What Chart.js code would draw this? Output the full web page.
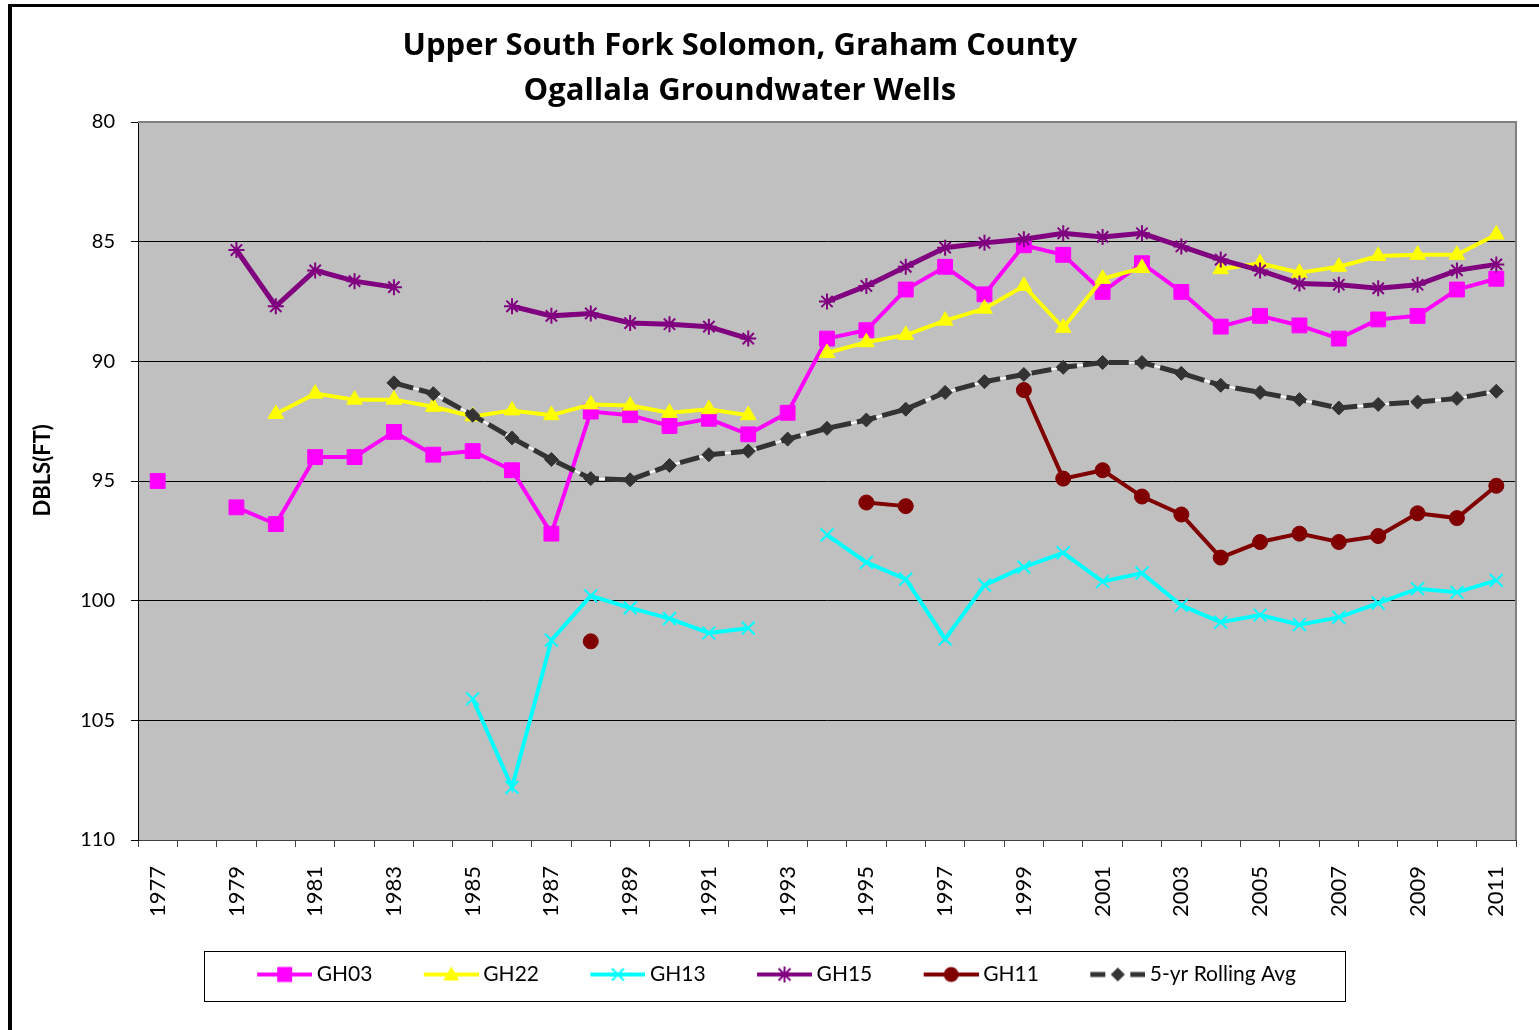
<!DOCTYPE html>
<html>
<head>
<meta charset="utf-8">
<script src="https://cdn.jsdelivr.net/npm/chart.js@4/dist/chart.umd.min.js"></script>
<style>
html,body{margin:0;padding:0;background:#fff;}
#wrap{width:1539px;height:1030px;position:relative;}
</style>
</head>
<body>
<div id="wrap"><canvas id="c" width="1539" height="1030"></canvas></div>
<script>
// ---------------- data ----------------
const years = ['1977','1978','1979','1980','1981','1982','1983','1984','1985','1986','1987','1988','1989','1990','1991','1992','1993','1994','1995','1996','1997','1998','1999','2000','2001','2002','2003','2004','2005','2006','2007','2008','2009','2010','2011'];

const gh03 = [95.0, null, 96.1, 96.8, 94.0, 94.0, 92.95, 93.9, 93.75, 94.55, 97.2, 92.1, 92.25, 92.7, 92.4, 93.05, 92.15, 89.05, 88.7, 87.0, 86.05, 87.2, 85.15, 85.55, 87.1, 85.9, 87.1, 88.55, 88.1, 88.5, 89.05, 88.25, 88.1, 87.0, 86.55];

const gh22 = [null, null, null, 92.2, 91.35, 91.6, 91.6, 91.9, 92.3, 92.05, 92.25, 91.8, 91.85, 92.15, 92.0, 92.25, null, 89.65, 89.2, 88.9, 88.3, 87.8, 86.85, 88.6, 86.55, 86.1, null, 86.15, 85.9, 86.3, 86.05, 85.6, 85.55, 85.55, 84.7];

const gh13 = [null, null, null, null, null, null, null, null, 104.1, 107.8, 101.65, 99.8, 100.3, 100.75, 101.35, 101.15, null, 97.25, 98.4, 99.1, 101.6, 99.35, 98.6, 98.0, 99.2, 98.85, 100.2, 100.9, 100.6, 101.0, 100.7, 100.1, 99.5, 99.65, 99.15];

const gh15 = [null, null, 85.35, 87.7, 86.2, 86.65, 86.9, null, null, 87.7, 88.1, 88.0, 88.4, 88.45, 88.55, 89.05, null, 87.5, 86.85, 86.05, 85.25, 85.05, 84.9, 84.65, 84.8, 84.65, 85.2, 85.75, 86.2, 86.75, 86.8, 86.95, 86.8, 86.2, 85.95];

const gh11 = [null, null, null, null, null, null, null, null, null, null, null, 101.7, null, null, null, null, null, null, 95.9, 96.05, null, null, 91.2, 94.9, 94.55, 95.65, 96.4, 98.2, 97.55, 97.2, 97.55, 97.3, 96.35, 96.55, 95.2];

const rollingAvg = [null, null, null, null, null, null, 90.9, 91.35, 92.25, 93.2, 94.1, 94.9, 94.95, 94.35, 93.9, 93.75, 93.25, 92.8, 92.45, 92.0, 91.3, 90.85, 90.55, 90.25, 90.05, 90.05, 90.5, 91.0, 91.3, 91.6, 91.95, 91.8, 91.7, 91.55, 91.25];

const seriesNames = ['GH03', 'GH22', 'GH13', 'GH15', 'GH11', '5-yr Rolling Avg'];
const titleLines = ['Upper South Fork Solomon, Graham County', 'Ogallala Groundwater Wells'];
const yTitle = 'DBLS(FT)';
const yTicks = {min: 80, max: 110, step: 5};

// ---------------- styling ----------------
const FONT = 'Lato';
Chart.defaults.font.family = FONT;
Chart.defaults.color = '#000';

const LEG_FONT = 21;
const LEG_PAD = 34.4;
const PW = 66;            // legend point-style width
const ICON_W = PW + 12;   // legend icon canvas width

function makeIcon(color, kind) {
  const W = ICON_W, H = 24;
  const c = document.createElement('canvas');
  c.width = W; c.height = H;
  const g = c.getContext('2d');
  const x0 = W - 55, cx = W - 27.5, cy = H / 2;
  g.strokeStyle = color; g.fillStyle = color;
  g.lineCap = 'butt';
  if (kind === 'diamond') {
    g.lineWidth = 5;
    g.beginPath(); g.moveTo(x0, cy); g.lineTo(x0 + 15, cy); g.stroke();
    g.beginPath(); g.moveTo(W - 15, cy); g.lineTo(W, cy); g.stroke();
  } else {
    g.lineWidth = 4;
    g.beginPath(); g.moveTo(x0, cy); g.lineTo(W, cy); g.stroke();
  }
  g.lineWidth = 2;
  g.beginPath();
  switch (kind) {
    case 'rect': g.fillRect(cx - 7.5, cy - 7.5, 15, 15); break;
    case 'triangle':
      g.moveTo(cx, cy - 8); g.lineTo(cx + 8, cy + 6); g.lineTo(cx - 8, cy + 6); g.closePath(); g.fill(); break;
    case 'crossRot':
      g.moveTo(cx - 6, cy - 6); g.lineTo(cx + 6, cy + 6); g.moveTo(cx + 6, cy - 6); g.lineTo(cx - 6, cy + 6); g.stroke(); break;
    case 'star':
      g.moveTo(cx - 6, cy - 6); g.lineTo(cx + 6, cy + 6); g.moveTo(cx + 6, cy - 6); g.lineTo(cx - 6, cy + 6);
      g.moveTo(cx, cy - 8); g.lineTo(cx, cy + 8); g.stroke(); break;
    case 'circle':
      g.arc(cx, cy, 7.5, 0, Math.PI * 2); g.fill(); break;
    case 'diamond':
      g.moveTo(cx, cy - 7); g.lineTo(cx + 7, cy); g.lineTo(cx, cy + 7); g.lineTo(cx - 7, cy); g.closePath(); g.fill(); break;
  }
  return c;
}

const colors = ['#FF00FF', '#FFFF00', '#00FFFF', '#800080', '#800000', '#333333'];
const kinds = ['rect', 'triangle', 'crossRot', 'star', 'circle', 'diamond'];
const legendIcons = colors.map((c, i) => makeIcon(c, kinds[i]));

const decor = {
  id: 'decor',
  beforeDraw(chart) {
    const {ctx, chartArea: a} = chart;
    ctx.save();
    ctx.fillStyle = '#FFFFFF';
    ctx.fillRect(0, 0, chart.width, chart.height);
    ctx.fillStyle = '#C0C0C0';
    ctx.fillRect(a.left, a.top, a.right - a.left, a.bottom - a.top);
    ctx.restore();
  },
  beforeDatasetsDraw(chart) {
    const {ctx, chartArea: a} = chart;
    ctx.save();
    ctx.strokeStyle = '#808080';
    ctx.lineWidth = 2;
    ctx.beginPath();
    ctx.moveTo(a.left, a.top);
    ctx.lineTo(a.right, a.top);
    ctx.lineTo(a.right, a.bottom);
    ctx.stroke();
    ctx.restore();
  },
  beforeDatasetDraw(chart, args) {
    if (args.index !== 5) return;
    const {ctx} = chart;
    const pts = args.meta.data;
    ctx.save();
    ctx.strokeStyle = '#FFFFFF';
    ctx.lineWidth = 2;
    ctx.beginPath();
    let started = false;
    pts.forEach(p => {
      if (p.skip) { started = false; return; }
      if (!started) { ctx.moveTo(p.x, p.y); started = true; }
      else ctx.lineTo(p.x, p.y);
    });
    ctx.stroke();
    ctx.restore();
  },
  afterDraw(chart) {
    const {ctx} = chart;
    ctx.save();
    // outer frame
    ctx.fillStyle = '#000';
    ctx.fillRect(8, 4, 4, chart.height - 4);
    ctx.fillRect(8, 4, chart.width - 8, 3);
    // legend border
    const hb = chart.legend && chart.legend.legendHitBoxes;
    if (hb && hb.length) {
      const first = hb[0], last = hb[hb.length - 1];
      const iconLeft = first.left + PW + 6 - 55;
      const L = Math.round(iconLeft - 53) + 0.5;
      const R = Math.round(last.left + last.width + 49) + 0.5;
      const cy = first.top + first.height / 2;
      const T = Math.round(cy - 24) + 0.5;
      const B = Math.round(cy + 26) + 0.5;
      ctx.strokeStyle = '#000';
      ctx.lineWidth = 1;
      ctx.strokeRect(L, T, R - L, B - T);
    }
    ctx.restore();
  }
};

function ds(i, data, extra) {
  return Object.assign({
    label: seriesNames[i],
    data: data,
    borderColor: colors[i],
    backgroundColor: colors[i],
    pointBackgroundColor: colors[i],
    pointBorderColor: colors[i],
    pointStyle: kinds[i],
    borderWidth: 4,
    pointBorderWidth: 1,
    spanGaps: false,
    tension: 0,
    order: 6 - i
  }, extra);
}

const datasets = [
  ds(0, gh03, {pointStyle: 'rect', pointRadius: 10.5}),
  ds(1, gh22, {pointStyle: 'triangle', pointRadius: 9}),
  ds(2, gh13, {pointStyle: 'crossRot', pointRadius: 9, pointBorderWidth: 2}),
  ds(3, gh15, {pointStyle: 'star', pointRadius: 8, pointBorderWidth: 2, borderWidth: 5}),
  ds(4, gh11, {pointStyle: 'circle', pointRadius: 7.5}),
  ds(5, rollingAvg, {pointStyle: 'rectRot', pointRadius: 7, borderWidth: 5, borderDash: [20, 6]})
];

const legendHeight = LEG_FONT + LEG_PAD + 10;
const xAxisHeight = (1030 - 35 - legendHeight) - 840;

new Chart(document.getElementById('c'), {
  type: 'line',
  data: {labels: years, datasets: datasets},
  plugins: [decor],
  options: {
    responsive: false,
    animation: false,
    events: [],
    layout: {padding: {left: 20, right: 23, top: 8, bottom: 35}},
    plugins: {
      tooltip: {enabled: false},
      title: {
        display: true,
        text: titleLines.map(t => t + '\u00a0'.repeat(7)),
        color: '#000',
        font: {family: 'Open Sans', size: 31, weight: 'bold', lineHeight: 45 / 31},
        padding: {top: 15.5, bottom: 8.5}
      },
      legend: {
        display: true,
        position: 'bottom',
        labels: {
          usePointStyle: true,
          pointStyleWidth: PW,
          padding: LEG_PAD,
          color: '#000',
          font: {family: FONT, size: LEG_FONT},
          generateLabels(chart) {
            return chart.data.datasets.map((d, i) => ({
              text: d.label,
              pointStyle: legendIcons[i],
              fontColor: '#000',
              hidden: false,
              datasetIndex: i,
              lineWidth: 0,
              strokeStyle: 'rgba(0,0,0,0)',
              fillStyle: 'rgba(0,0,0,0)'
            }));
          }
        }
      }
    },
    scales: {
      x: {
        type: 'category',
        offset: true,
        afterFit(scale) { scale.height = xAxisHeight; scale.paddingLeft = 0; scale.paddingRight = 0; },
        grid: {display: true, drawOnChartArea: false, drawTicks: true, tickLength: 7, color: '#404040', offset: true},
        border: {display: true, color: '#404040', width: 1},
        ticks: {
          autoSkip: false,
          maxRotation: 90,
          minRotation: 90,
          padding: 19,
          color: '#000',
          font: {family: FONT, size: 22},
          callback(value, index) {
            const y = years[index];
            return Number(y) % 2 === 1 ? y : '';
          }
        }
      },
      y: {
        type: 'linear',
        reverse: true,
        min: yTicks.min,
        max: yTicks.max,
        afterFit(scale) { scale.width = 118; },
        grid: {display: true, color: '#000', lineWidth: 1, drawTicks: true, tickLength: 7},
        border: {display: true, color: '#000', width: 1},
        ticks: {stepSize: yTicks.step, padding: 16, color: '#000', font: {family: FONT, size: 20}},
        title: {
          display: true,
          text: '\u00a0'.repeat(4) + yTitle,
          color: '#000',
          font: {family: FONT, size: 22, weight: 'bold'},
          padding: {top: 10, bottom: 0}
        }
      }
    }
  }
});
</script>
</body>
</html>
